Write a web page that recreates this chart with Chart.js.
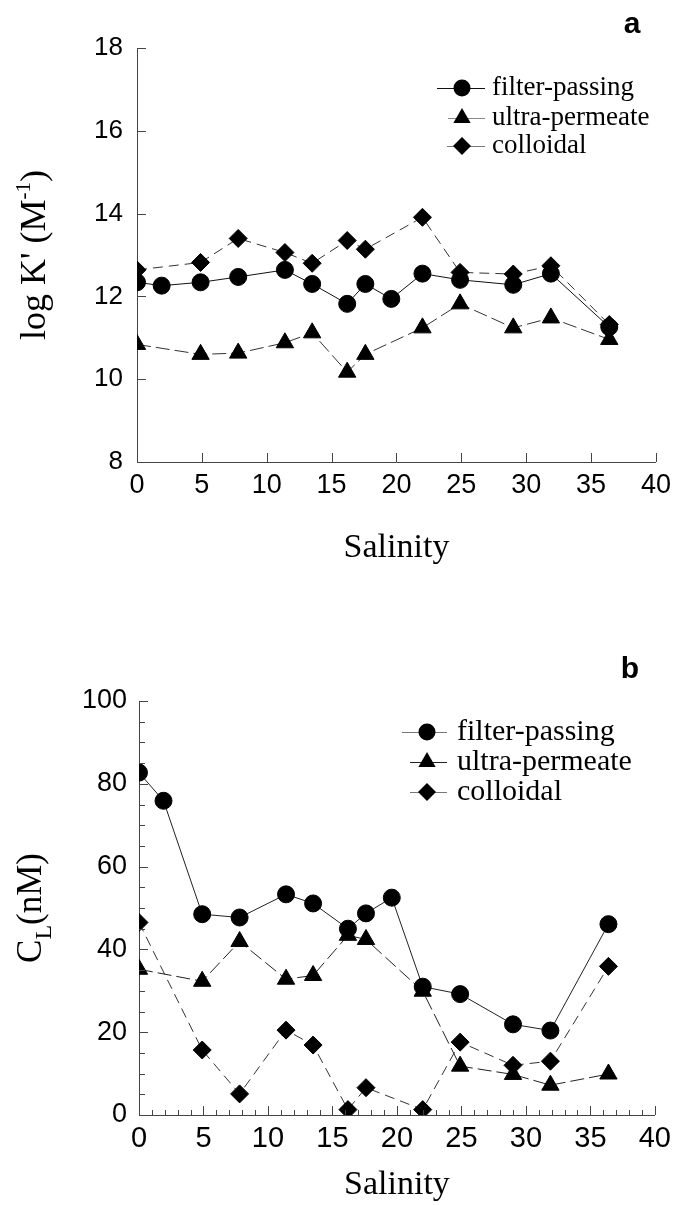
<!DOCTYPE html>
<html lang="en">
<head>
  <meta charset="UTF-8">
  <title>log K' and C_L vs salinity</title>
  <script src="https://cdn.jsdelivr.net/npm/chart.js"></script>
  <style>
    body { margin: 0; background: #fff; }
    canvas { position: absolute; left: 0; }
    #chartA { top: 0; }
    #chartB { top: 580px; }
  </style>
</head>
<body>
  <canvas id="chartA" width="678" height="580"></canvas>
  <canvas id="chartB" width="678" height="625"></canvas>

  <script>
    // Salinity of each station (shared by both panels)
    const salinity = [0, 1.9, 4.9, 7.8, 11.4, 13.5, 16.2, 17.6, 19.6, 22, 24.9, 29, 31.9, 36.4];

    // panel a: log K' (M-1)
    const logKFilter  = [12.34, 12.26, 12.34, 12.47, 12.64, 12.30, 11.82, 12.30, 11.94, 12.55, 12.40, 12.28, 12.55, 11.26];
    const logKUltra   = [10.84, null, 10.60, 10.63, 10.88, 11.12, 10.17, 10.60, null, 11.24, 11.82, 11.24, 11.48, 10.96];
    const logKColloid = [12.64, null, 12.82, 13.40, 13.06, 12.80, 13.35, 13.14, null, 13.91, 12.58, 12.54, 12.74, 11.32];

    // panel b: C_L (nM)
    const clFilter  = [82.7, 75.9, 48.5, 47.7, 53.3, 51.1, 45.0, 48.7, 52.5, 31.0, 29.2, 21.9, 20.4, 46.1];
    const clUltra   = [35.2, null, 32.3, 41.9, 32.8, 33.7, 43.4, 42.4, null, 29.9, 11.8, 9.8, 7.2, 9.9];
    const clColloid = [46.5, null, 15.7, 5.1, 20.5, 16.9, 1.3, 6.6, null, 1.3, 17.6, 12.0, 13.0, 35.9];

    const seriesNames = ['filter-passing', 'ultra-permeate', 'colloidal'];
    const xTicks = [0, 5, 10, 15, 20, 25, 30, 35, 40];
    const xMinorB = [1, 2, 3, 4, 6, 7, 8, 9, 11, 12, 13, 14, 16, 17, 18, 19, 21, 22, 23, 24,
                     26, 27, 28, 29, 31, 32, 33, 34, 36, 37, 38, 39];
    const yTicksA = [8, 10, 12, 14, 16, 18];
    const yTicksB = [0, 20, 40, 60, 80, 100];
    const yMinorB = [5, 10, 15, 25, 30, 35, 45, 50, 55, 65, 70, 75, 85, 90, 95];

    const sansFont = '"Liberation Sans", Arial, sans-serif';
    const serifFont = '"Liberation Serif", "Times New Roman", serif';

    function makeSeries(label, ys, shape, radius, dash, color) {
      return {
        label: label,
        data: salinity.map((x, i) => ({ x: x, y: ys[i] })).filter(p => p.y !== null),
        pointStyle: shape,
        pointRadius: radius,
        pointHoverRadius: radius,
        pointBackgroundColor: '#000',
        pointBorderColor: '#000',
        pointBorderWidth: 1,
        borderColor: color,
        borderWidth: 1,
        borderDash: dash,
        tension: 0,
        fill: false
      };
    }

    function drawMarker(ctx, shape, x, y, r) {
      ctx.beginPath();
      if (shape === 'circle') {
        ctx.arc(x, y, r, 0, Math.PI * 2);
      } else if (shape === 'triangle') {
        for (let k = 0; k < 3; k++) {
          const a = -Math.PI / 2 + k * 2 * Math.PI / 3;
          k === 0 ? ctx.moveTo(x + r * Math.cos(a), y + r * Math.sin(a))
                  : ctx.lineTo(x + r * Math.cos(a), y + r * Math.sin(a));
        }
      } else {
        ctx.moveTo(x, y - r); ctx.lineTo(x + r, y); ctx.lineTo(x, y + r); ctx.lineTo(x - r, y);
      }
      ctx.closePath();
      ctx.fill();
    }

    // inward tick marks, rotated y title with sub/superscripts, legend and panel letter
    const panelDecor = {
      id: 'panelDecor',
      afterDraw(chart, args, o) {
        const ctx = chart.ctx, area = chart.chartArea;
        const xs = chart.scales.x, ys = chart.scales.y;
        ctx.save();
        ctx.strokeStyle = '#444';
        ctx.lineWidth = 1;
        ctx.beginPath();
        const xTick = (v, len) => {
          const px = Math.round(xs.getPixelForValue(v)) + 0.5;
          ctx.moveTo(px, area.bottom); ctx.lineTo(px, area.bottom - len);
        };
        const yTick = (v, len) => {
          const py = Math.round(ys.getPixelForValue(v)) + 0.5;
          ctx.moveTo(area.left, py); ctx.lineTo(area.left + len, py);
        };
        xTicks.forEach(v => xTick(v, 9));
        o.xMinor.forEach(v => xTick(v, 5));
        o.yMajor.forEach(v => yTick(v, 9));
        o.yMinor.forEach(v => yTick(v, 6));
        ctx.stroke();

        // y axis title
        ctx.fillStyle = '#000';
        ctx.textBaseline = 'alphabetic';
        const parts = o.yTitle;
        let total = 0;
        parts.forEach(p => {
          ctx.font = (p.size || o.yTitleSize) + 'px ' + serifFont;
          p.w = ctx.measureText(p.t).width;
          total += p.w;
        });
        ctx.translate(o.yTitleX, (area.top + area.bottom) / 2);
        ctx.rotate(-Math.PI / 2);
        let cx = -total / 2;
        parts.forEach(p => {
          ctx.font = (p.size || o.yTitleSize) + 'px ' + serifFont;
          ctx.fillText(p.t, cx, 12 + (p.dy || 0));
          cx += p.w;
        });
        ctx.setTransform(1, 0, 0, 1, 0, 0);

        // legend
        const lg = o.legend;
        chart.data.datasets.forEach((ds, i) => {
          const y = lg.rows[i];
          ctx.strokeStyle = lg.lineColors[i];
          ctx.beginPath();
          ctx.moveTo(lg.x - lg.left[i], y + 0.5);
          ctx.lineTo(lg.x + lg.half, y + 0.5);
          ctx.stroke();
          ctx.fillStyle = '#000';
          drawMarker(ctx, ds.pointStyle, lg.x, y, ds.pointRadius);
          ctx.font = lg.size + 'px ' + serifFont;
          ctx.textBaseline = 'middle';
          ctx.fillText(ds.label, lg.textX, y);
        });

        // panel letter
        ctx.font = 'bold 30px ' + sansFont;
        ctx.textAlign = 'center';
        ctx.textBaseline = 'middle';
        ctx.fillText(o.letter, o.letterX, o.letterY);
        ctx.restore();
      }
    };

    function makeChart(id, datasets, area, yMin, yMax, yStep, fonts, decor) {
      const cv = document.getElementById(id);
      return new Chart(cv.getContext('2d'), {
        type: 'line',
        data: { datasets: datasets },
        options: {
          responsive: false,
          animation: false,
          events: [],
          layout: { padding: { left: 0, top: area.top, right: cv.width - area.right, bottom: 0 } },
          plugins: { legend: { display: false }, tooltip: { enabled: false }, panelDecor: decor },
          scales: {
            x: {
              type: 'linear',
              min: 0, max: 40,
              afterFit: s => { s.height = cv.height - area.bottom; },
              ticks: { stepSize: 5, color: '#000', padding: 7, maxRotation: 0,
                       font: { family: sansFont, size: fonts.x } },
              grid: { drawOnChartArea: false, drawTicks: false },
              border: { color: '#444', width: 1 },
              title: { display: true, text: 'Salinity', color: '#000',
                       font: { family: serifFont, size: 34 }, padding: { top: 0, bottom: area.titlePad } }
            },
            y: {
              min: yMin, max: yMax,
              afterFit: s => { s.width = area.left; },
              ticks: { stepSize: yStep, color: '#000', padding: area.yPad,
                       font: { family: sansFont, size: fonts.y } },
              grid: { drawOnChartArea: false, drawTicks: false },
              border: { color: '#444', width: 1 }
            }
          }
        },
        plugins: [panelDecor]
      });
    }

    makeChart('chartA', [
      makeSeries(seriesNames[0], logKFilter, 'circle', 8.5, [], '#111'),
      makeSeries(seriesNames[1], logKUltra, 'triangle', 10, [14, 5], '#333'),
      makeSeries(seriesNames[2], logKColloid, 'rectRot', 9, [10, 6], '#333')
    ], { left: 137, right: 657, top: 48, bottom: 462, titlePad: 12, yPad: 14 }, 8, 18, 2, { x: 27, y: 26 }, {
      xMinor: [], yMajor: yTicksA, yMinor: [],
      yTitle: [{ t: "log K' (M" }, { t: '-1', size: 21, dy: -15 }, { t: ')' }],
      yTitleSize: 36, yTitleX: 33,
      legend: { x: 462, half: 23, left: [25, 14, 15], textX: 492, rows: [88, 118, 146], size: 27,
                lineColors: ['#111', '#888', '#777'] },
      letter: 'a', letterX: 632, letterY: 25
    });

    makeChart('chartB', [
      makeSeries(seriesNames[0], clFilter, 'circle', 8.5, [], '#222'),
      makeSeries(seriesNames[1], clUltra, 'triangle', 10, [14, 5], '#222'),
      makeSeries(seriesNames[2], clColloid, 'rectRot', 9, [10, 6], '#333')
    ], { left: 139, right: 659, top: 121, bottom: 535, titlePad: 0, yPad: 12 }, 0, 100, 20, { x: 29, y: 27 }, {
      xMinor: xMinorB, yMajor: yTicksB, yMinor: yMinorB,
      yTitle: [{ t: 'C' }, { t: 'L', size: 24, dy: 10 }, { t: '(nM)' }],
      yTitleSize: 35, yTitleX: 29,
      legend: { x: 427, half: 20, left: [25, 17, 17], textX: 457, rows: [152, 182, 212], size: 30,
                lineColors: ['#777', '#222', '#777'] },
      letter: 'b', letterX: 630, letterY: 90
    });
  </script>
</body>
</html>
